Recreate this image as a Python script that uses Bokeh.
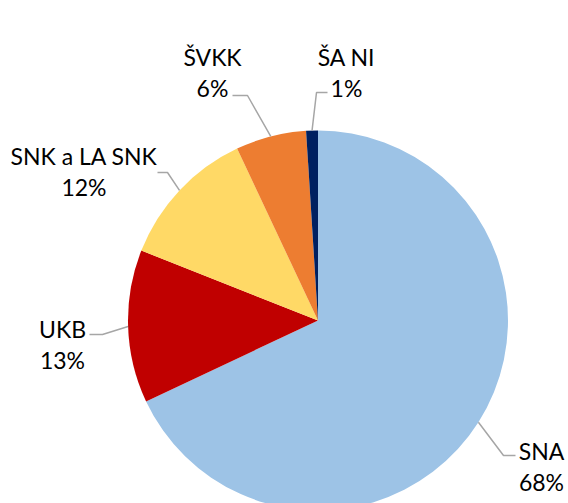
import math
from bokeh.plotting import figure
from bokeh.models import Range1d
from bokeh.core.properties import value
from bokeh.embed import file_html
from bokeh.resources import INLINE

# ---- data ----
categories = ["SNA", "UKB", "SNK a LA SNK", "ŠVKK", "ŠA NI"]
shares = [68, 13, 12, 6, 1]
pct_labels = ["68%", "13%", "12%", "6%", "1%"]
colors = ["#9DC3E6", "#C00000", "#FFD966", "#ED7D31", "#002060"]

# ---- layout (image pixel coordinates, y downward) ----
W, H = 568, 503
CX, CY, R = 317.5, 320.0, 190.0
TEXT_SHIFT = -7
# label centre x, first-line baseline y
label_pos = [(541, 457), (62, 335), (83.5, 162), (212, 63), (346, 63)]
LINE_GAP = 31.5
# leader elbow and end points
leader_pts = [((503, 455), (515, 455)),
              ((102, 334), (89, 334)),
              ((167, 172), (157, 172)),
              ((247, 95), (232, 95)),
              ((316, 92), (327, 92))]

def Y(y):
    return H - y

p = figure(width=W, height=H, output_backend="svg", toolbar_location=None,
           x_range=Range1d(0, W), y_range=Range1d(0, H),
           min_border=0, outline_line_color=None)
p.axis.visible = False
p.grid.visible = False
p.background_fill_color = "white"
p.border_fill_color = "white"

total = float(sum(shares))
cum = 0.0
starts, ends, mids = [], [], []
for s in shares:
    a0 = cum / total
    cum += s
    a1 = cum / total
    starts.append(math.pi / 2 - 2 * math.pi * a0)
    ends.append(math.pi / 2 - 2 * math.pi * a1)
    mids.append((a0 + a1) / 2)

p.wedge(x=[CX] * len(shares), y=[Y(CY)] * len(shares), radius=R,
        start_angle=starts, end_angle=ends, direction="clock",
        fill_color=colors, line_color=None)

# leader lines
for m, (elbow, end) in zip(mids, leader_pts):
    th = 2 * math.pi * m
    sx = CX + R * math.sin(th)
    sy = CY - R * math.cos(th)
    p.line(x=[sx, elbow[0], end[0]], y=[Y(sy), Y(elbow[1]), Y(end[1])],
           line_color="#A6A6A6", line_width=1.5)

# labels
font = value("Lato")
for cat, pct, (lx, ly) in zip(categories, pct_labels, label_pos):
    ly = ly + TEXT_SHIFT
    p.text(x=[lx, lx], y=[Y(ly), Y(ly + LINE_GAP)], text=[cat, pct],
           text_font=font, text_font_size="23px", text_color="#000000",
           text_align="center", text_baseline="alphabetic")

open("out.html", "w").write(file_html(p, INLINE))
